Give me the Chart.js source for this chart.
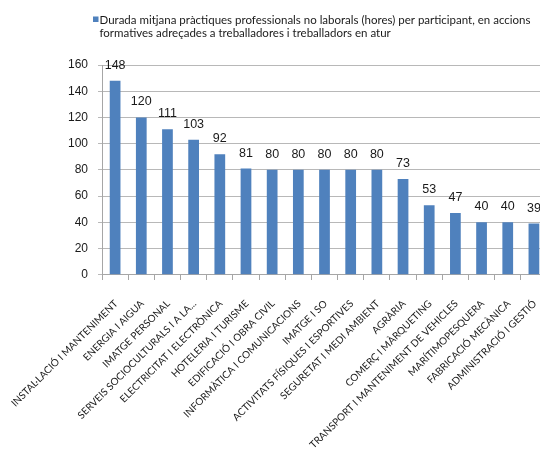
<!DOCTYPE html>
<html>
<head>
<meta charset="utf-8">
<script src="https://cdn.jsdelivr.net/npm/chart.js@4.4.1/dist/chart.umd.min.js"></script>
<style>
    html, body { margin: 0; padding: 0; background: #fff; overflow: hidden; }
    #wrap { width: 620px; height: 470px; position: relative; }
</style>
</head>
<body>
<div id="wrap"><canvas id="chart"></canvas></div>
<script>
// Categories (families professionals) and average hours per participant
const categories = [
    'INSTAL·LACIÓ I MANTENIMENT', 'ENERGIA I AIGUA', 'IMATGE PERSONAL',
    'SERVEIS SOCIOCULTURALS I A LA...', 'ELECTRICITAT I ELECTRÒNICA', 'HOTELERIA I TURISME',
    'EDIFICACIÓ I OBRA CIVIL', 'INFORMÀTICA I COMUNICACIONS', 'IMATGE I SO',
    'ACTIVITATS FÍSIQUES I ESPORTIVES', 'SEGURETAT I MEDI AMBIENT', 'AGRÀRIA',
    'COMERÇ I MÀRQUETING', 'TRANSPORT I MANTENIMENT DE VEHICLES', 'MARÍTIMOPESQUERA',
    'FABRICACIÓ MECÀNICA', 'ADMINISTRACIÓ I GESTIÓ'
];
const hours = [148, 120, 111, 103, 92, 81, 80, 80, 80, 80, 80, 73, 53, 47, 40, 40, 39];
const seriesLabel = [
    'Durada mitjana pràctiques professionals no laborals (hores) per participant, en accions',
    'formatives adreçades a treballadores i treballadors en atur'
];
const yTicks = [0, 20, 40, 60, 80, 100, 120, 140, 160];

const barColor = '#4F81BD';
const gillLike = 'Lato, "Open Sans", sans-serif';
const arialLike = '"Liberation Sans", Arial, sans-serif';

// Draw the value above each bar
const valueLabels = {
    id: 'valueLabels',
    afterDatasetsDraw(chart) {
        const ctx = chart.ctx;
        const meta = chart.getDatasetMeta(0);
        ctx.save();
        ctx.font = '12.5px ' + arialLike;
        ctx.fillStyle = '#1a1a1a';
        ctx.textAlign = 'center';
        ctx.textBaseline = 'alphabetic';
        meta.data.forEach((bar, i) => {
            ctx.fillText(String(hours[i]), bar.x, bar.y - 12);
        });
        ctx.restore();
    }
};

// Two-line legend, like the original (built-in legend can't wrap one item)
const wrappedLegend = {
    id: 'wrappedLegend',
    afterDraw(chart) {
        const ctx = chart.ctx;
        ctx.save();
        ctx.fillStyle = chart.data.datasets[0].backgroundColor;
        ctx.fillRect(93, 16.5, 5.5, 5.5);
        ctx.font = '11.5px ' + gillLike;
        ctx.fillStyle = '#1a1a1a';
        ctx.textAlign = 'left';
        ctx.textBaseline = 'alphabetic';
        seriesLabel.forEach((line, i) => {
            ctx.fillText(line, 99.5, 24 + i * 13);
        });
        ctx.restore();
    }
};

new Chart(document.getElementById('chart'), {
    type: 'bar',
    data: {
        labels: categories,
        datasets: [{
            label: seriesLabel.join(' '),
            data: hours,
            backgroundColor: barColor,
            borderWidth: 0,
            categoryPercentage: 1,
            barPercentage: 0.41
        }]
    },
    options: {
        responsive: true,
        maintainAspectRatio: false,
        animation: false,
        layout: { padding: { left: 58, right: 73, top: 65, bottom: 5 } },
        plugins: {
            tooltip: { enabled: false },
            legend: { display: false }
        },
        scales: {
            x: {
                grid: {
                    display: true,
                    drawOnChartArea: false,
                    drawTicks: true,
                    // long tick + negative padding: labels sit lower and the first
                    // rotated label may hang into the left margin; dash keeps the mark short
                    tickLength: 37,
                    tickBorderDash: [5, 60],
                    offset: true,
                    color: '#a6a6a6'
                },
                border: { color: '#a6a6a6' },
                ticks: {
                    autoSkip: false,
                    minRotation: 45,
                    maxRotation: 45,
                    padding: -14,
                    labelOffset: 1,
                    color: '#1a1a1a',
                    font: { family: gillLike, size: 10 }
                },
                afterFit(scale) {
                    // labels are clipped to the axis box, give the long ones room
                    scale.height += 28;
                }
            },
            y: {
                min: 0,
                max: 160,
                afterBuildTicks(scale) {
                    scale.ticks = yTicks.map(v => ({ value: v }));
                },
                grid: { color: '#b8b8b8', tickLength: 4 },
                border: { color: '#a6a6a6' },
                ticks: {
                    padding: 10,
                    color: '#1a1a1a',
                    font: { family: arialLike, size: 12 }
                }
            }
        }
    },
    plugins: [valueLabels, wrappedLegend]
});
</script>
</body>
</html>
